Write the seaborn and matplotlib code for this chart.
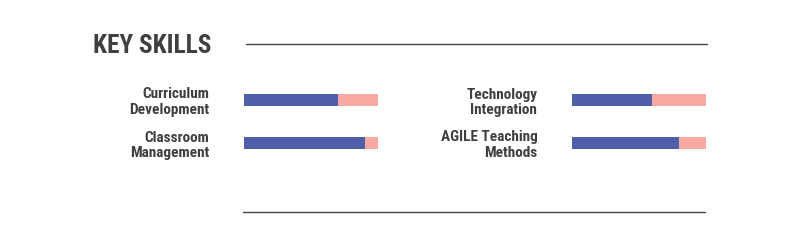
import matplotlib
matplotlib.use("Agg")
import matplotlib.pyplot as plt
from matplotlib import font_manager
from matplotlib.lines import Line2D
import seaborn as sns
import pandas as pd

left_skills = ["Curriculum\nDevelopment", "Classroom\nManagement"]
left_values = [70, 90]
right_skills = ["Technology\nIntegration", "AGILE Teaching\nMethods"]
right_values = [60, 80]
max_value = 100
title = "KEY SKILLS"

sns.set_theme(style="white")
names = {f.name for f in font_manager.fontManager.ttflist}
fam = "Roboto Condensed" if "Roboto Condensed" in names else "Roboto"
plt.rcParams["font.family"] = [fam, "DejaVu Sans"]

BLUE = "#4F5EA8"
PINK = "#F8A9A1"
TEXT = "#3F3F3F"
LINE = "#444444"

W, H = 790, 240
fig = plt.figure(figsize=(W / 100, H / 100), dpi=100)
fig.patch.set_facecolor("white")

def px_axes(x0, x1, y0, y1):
    return fig.add_axes([x0 / W, 1 - y1 / H, (x1 - x0) / W, (y1 - y0) / H])

def draw(ax, skills, values):
    df = pd.DataFrame({"skill": skills, "value": values, "max": [max_value] * len(values)})
    sns.barplot(data=df, y="skill", x="max", color=PINK, width=0.28, ax=ax,
                saturation=1, linewidth=0)
    sns.barplot(data=df, y="skill", x="value", color=BLUE, width=0.28, ax=ax,
                saturation=1, linewidth=0)
    ax.set_xlim(0, max_value)
    ax.set_ylim(len(values) - 0.5, -0.5)
    ax.set_xlabel("")
    ax.set_ylabel("")
    ax.set_xticks([])
    for s in ax.spines.values():
        s.set_visible(False)
    ax.tick_params(axis="y", length=0, pad=25)
    for lab in ax.get_yticklabels():
        lab.set_fontsize(11)
        lab.set_fontweight("bold")
        lab.set_color(TEXT)
        lab.set_ha("right")
        lab.set_multialignment("right")
        lab.set_linespacing(1.15)
    ax.patch.set_alpha(0)

axL = px_axes(244, 378, 78.5, 164.5)
draw(axL, left_skills, left_values)
axR = px_axes(572, 706, 78.5, 164.5)
draw(axR, right_skills, right_values)

fig.text(93 / W, 1 - 53 / H, title, fontsize=18.2, fontweight="bold", color=TEXT,
         ha="left", va="baseline")
fig.add_artist(Line2D([246 / W, 707 / W], [1 - 44.3 / H] * 2, color=LINE, lw=1.0))
fig.add_artist(Line2D([243 / W, 705 / W], [1 - 212.3 / H] * 2, color=LINE, lw=1.0))

fig.savefig("out.png", dpi=100, facecolor="white")
